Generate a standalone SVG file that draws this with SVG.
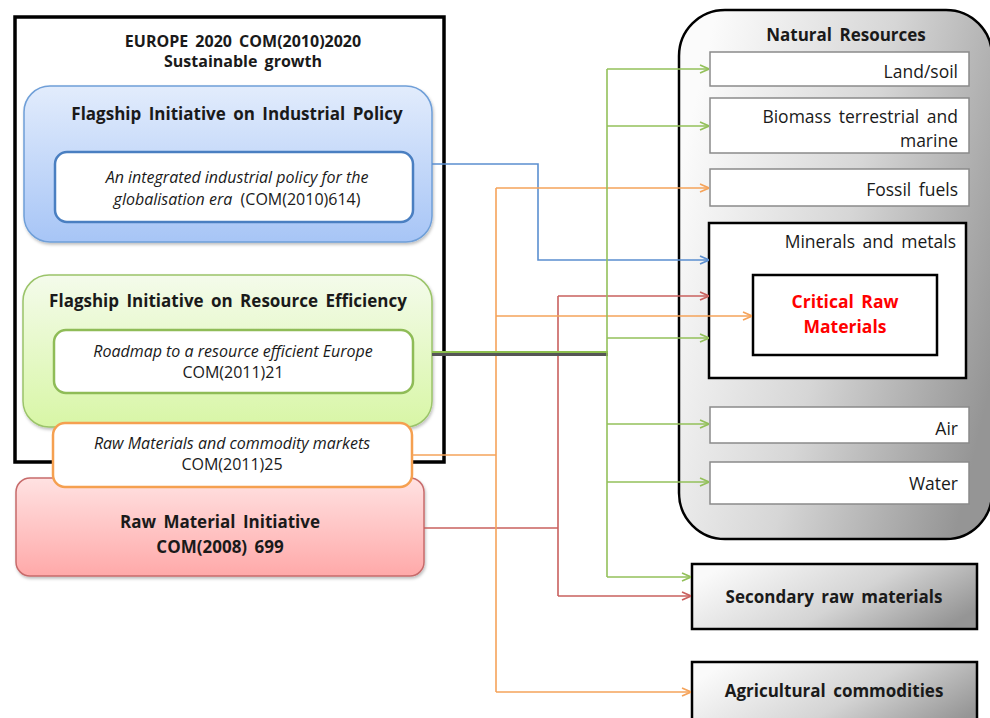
<svg xmlns="http://www.w3.org/2000/svg" width="990" height="718" viewBox="0 0 990 718">
<style>
text{font-family:"Open Sans","Liberation Sans",sans-serif;fill:#1a1a1a}
.b{font-weight:bold;word-spacing:3px}
.i{font-style:italic}
.t{font-size:16px}
.h{font-size:17px}
.rt{text-anchor:end;font-size:17.5px;word-spacing:3px}
.c{text-anchor:middle}
.item{fill:#fff;stroke:#8a8a8a;stroke-width:1.5}
.con{fill:none;stroke-width:1.6}
</style>
<defs>
<linearGradient id="gBlue" x1="0" y1="0" x2="0" y2="1"><stop offset="0" stop-color="#e2ecfc"/><stop offset="1" stop-color="#a7c5f6"/></linearGradient>
<linearGradient id="gGreen" x1="0" y1="0" x2="0" y2="1"><stop offset="0" stop-color="#f4fbeb"/><stop offset="1" stop-color="#d8f6a6"/></linearGradient>
<linearGradient id="gRed" x1="0" y1="0" x2="0" y2="1"><stop offset="0" stop-color="#ffe2e2"/><stop offset="1" stop-color="#ffa9a9"/></linearGradient>
<linearGradient id="gGrey" x1="0" y1="0.3" x2="1" y2="0.7"><stop offset="0" stop-color="#fbfbfb"/><stop offset="0.5" stop-color="#d6d6d6"/><stop offset="1" stop-color="#959595"/></linearGradient>
<linearGradient id="gGreyBox" x1="0" y1="0.3" x2="1" y2="0.7"><stop offset="0" stop-color="#fafafa"/><stop offset="0.55" stop-color="#d4d4d4"/><stop offset="1" stop-color="#959595"/></linearGradient>
<filter id="sh" x="-5%" y="-5%" width="110%" height="115%"><feDropShadow dx="1" dy="2" stdDeviation="1.5" flood-color="#000" flood-opacity="0.25"/></filter>
<marker id="aBlue" viewBox="0 0 10 10" refX="10" refY="5" markerWidth="10" markerHeight="10" markerUnits="userSpaceOnUse" orient="auto"><path d="M1,1 L10,5 L1,9" fill="none" stroke="#5b8fd0" stroke-width="1.6"/></marker>
<marker id="aGreen" viewBox="0 0 10 10" refX="10" refY="5" markerWidth="10" markerHeight="10" markerUnits="userSpaceOnUse" orient="auto"><path d="M1,1 L10,5 L1,9" fill="none" stroke="#93c05a" stroke-width="1.6"/></marker>
<marker id="aOrange" viewBox="0 0 10 10" refX="10" refY="5" markerWidth="10" markerHeight="10" markerUnits="userSpaceOnUse" orient="auto"><path d="M1,1 L10,5 L1,9" fill="none" stroke="#f5a35a" stroke-width="1.6"/></marker>
<marker id="aRed" viewBox="0 0 10 10" refX="10" refY="5" markerWidth="10" markerHeight="10" markerUnits="userSpaceOnUse" orient="auto"><path d="M1,1 L10,5 L1,9" fill="none" stroke="#c9605e" stroke-width="1.6"/></marker>
</defs>
<rect width="990" height="718" fill="#fff"/>

<g id="europe2020">
<rect x="15" y="17" width="429" height="445" fill="#fff" stroke="#000" stroke-width="3.5"/>
<text class="b c t" x="243" y="47">EUROPE 2020  COM(2010)2020</text>
<text class="b c t" x="243" y="67">Sustainable  growth</text>
</g>

<g id="industrial">
<rect x="24" y="86" width="408" height="156" rx="26" fill="url(#gBlue)" stroke="#6f9fd8" stroke-width="1.5" filter="url(#sh)"/>
<text class="b c h" x="237" y="120">Flagship Initiative on Industrial Policy</text>
<rect x="55" y="152" width="358" height="70" rx="12" fill="#fff" stroke="#4a7fc1" stroke-width="2.5"/>
<text class="i c t" x="237" y="183">An integrated industrial policy for the</text>
<text class="c t" x="237" y="205" xml:space="preserve"><tspan class="i">globalisation era</tspan>  (COM(2010)614)</text>
</g>

<g id="resource">
<rect x="23" y="275" width="409" height="152" rx="26" fill="url(#gGreen)" stroke="#9bc46a" stroke-width="1.5" filter="url(#sh)"/>
<text class="b c h" x="228" y="307">Flagship Initiative on Resource Efficiency</text>
<rect x="54" y="330" width="359" height="63" rx="12" fill="#fff" stroke="#8fbc57" stroke-width="2.5"/>
<text class="i c t" x="233" y="357">Roadmap to a resource efficient Europe</text>
<text class="c t" x="233" y="378">COM(2011)21</text>
</g>

<g id="rmi">
<rect x="16" y="478" width="408" height="98" rx="14" fill="url(#gRed)" stroke="#c76b6b" stroke-width="1.5" filter="url(#sh)"/>
<text class="b c h" x="220" y="528">Raw Material Initiative</text>
<text class="b c h" x="220" y="553">COM(2008) 699</text>
</g>

<g id="commodity">
<rect x="53" y="423" width="359" height="64" rx="12" fill="#fff" stroke="#f5a050" stroke-width="2.5"/>
<text class="i c t" x="232" y="449">Raw Materials and commodity markets</text>
<text class="c t" x="232" y="470">COM(2011)25</text>
</g>

<g id="natural">
<rect x="679" y="10" width="313" height="529" rx="46" fill="url(#gGrey)" stroke="#000" stroke-width="2.5"/>
<text class="b c h" x="846" y="41">Natural Resources</text>
</g>
<g id="land"><rect class="item" x="710" y="52" width="259" height="34"/><text class="rt" x="958" y="78">Land/soil</text></g>
<g id="biomass"><rect class="item" x="710" y="98" width="259" height="55"/><text class="rt" x="958" y="123">Biomass terrestrial and</text><text class="rt" x="958" y="147">marine</text></g>
<g id="fossil"><rect class="item" x="710" y="169" width="259" height="37"/><text class="rt" x="958" y="196">Fossil fuels</text></g>
<g id="minerals"><rect x="709" y="223" width="257" height="155" fill="#fff" stroke="#000" stroke-width="2.5"/><text class="rt" x="956" y="248">Minerals and metals</text></g>
<g id="crm"><rect x="753" y="275" width="184" height="80" fill="#fff" stroke="#000" stroke-width="2.5"/><text class="b c h" x="845" y="308" style="fill:#ff0000;font-size:17.5px">Critical Raw</text><text class="b c h" x="845" y="333" style="fill:#ff0000;font-size:17.5px">Materials</text></g>
<g id="air"><rect class="item" x="710" y="407" width="259" height="36"/><text class="rt" x="958" y="435">Air</text></g>
<g id="water"><rect class="item" x="710" y="462" width="259" height="42"/><text class="rt" x="958" y="490">Water</text></g>

<g id="secondary"><rect x="692" y="564" width="285" height="65" fill="url(#gGreyBox)" stroke="#000" stroke-width="2.5"/><text class="b c h" x="834" y="603">Secondary raw materials</text></g>
<g id="agricultural"><rect x="692" y="662" width="285" height="70" fill="url(#gGreyBox)" stroke="#000" stroke-width="2.5"/><text class="b c h" x="834" y="697">Agricultural commodities</text></g>

<g id="connectors">
<path class="con" stroke="#5b8fd0" d="M432,164 H538 V260 H709" marker-end="url(#aBlue)"/>
<path class="con" stroke="#c9605e" d="M424,528 H558"/>
<path class="con" stroke="#c9605e" d="M558,296 V596"/>
<path class="con" stroke="#c9605e" d="M558,296 H709" marker-end="url(#aRed)"/>
<path class="con" stroke="#c9605e" d="M558,596 H691" marker-end="url(#aRed)"/>
<path class="con" stroke="#f5a35a" d="M412,455 H496"/>
<path class="con" stroke="#f5a35a" d="M496,188 V692"/>
<path class="con" stroke="#f5a35a" d="M496,188 H709" marker-end="url(#aOrange)"/>
<path class="con" stroke="#f5a35a" d="M496,316 H752" marker-end="url(#aOrange)"/>
<path class="con" stroke="#f5a35a" d="M496,692 H691" marker-end="url(#aOrange)"/>
<path fill="none" stroke="#555" stroke-width="3" d="M432,354.5 H608"/>
<path fill="none" stroke="#8cbf4e" stroke-width="2" d="M432,352 H608"/>
<path class="con" stroke="#93c05a" stroke-width="2" d="M607,69 V577"/>
<path class="con" stroke="#93c05a" d="M607,69 H709" marker-end="url(#aGreen)"/>
<path class="con" stroke="#93c05a" d="M607,126 H709" marker-end="url(#aGreen)"/>
<path class="con" stroke="#93c05a" d="M607,338 H709" marker-end="url(#aGreen)"/>
<path class="con" stroke="#93c05a" d="M607,424 H709" marker-end="url(#aGreen)"/>
<path class="con" stroke="#93c05a" d="M607,482 H709" marker-end="url(#aGreen)"/>
<path class="con" stroke="#93c05a" d="M607,577 H691" marker-end="url(#aGreen)"/>
</g>
</svg>
